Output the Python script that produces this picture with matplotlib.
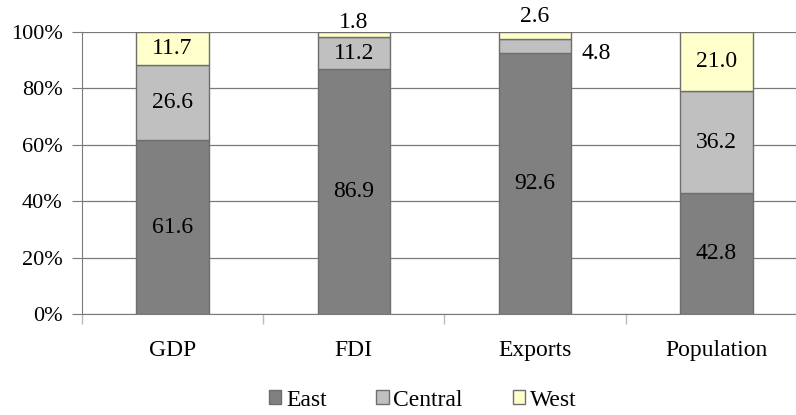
import matplotlib
matplotlib.use("Agg")
from matplotlib import pyplot as plt
from matplotlib.ticker import FixedLocator, FuncFormatter
from matplotlib.patches import Patch
import numpy as np

plt.rcParams["font.family"] = ["Liberation Serif", "DejaVu Serif"]

categories = ["GDP", "FDI", "Exports", "Population"]
east = [61.6, 86.9, 92.6, 42.8]
central = [26.6, 11.2, 4.8, 36.2]
west = [11.7, 1.8, 2.6, 21.0]
series_names = ["East", "Central", "West"]

colors = ["#808080", "#c0c0c0", "#ffffcc"]
edge = "#6e6e6e"

fig = plt.figure(figsize=(7.96, 4.15), dpi=100)
ax = fig.add_axes([0.103, 0.2434, 0.897, 0.6796])

x = np.arange(len(categories))
width = 0.4
bottom = np.zeros(len(categories))
for vals, col in zip([east, central, west], colors):
    ax.bar(x, vals, width, bottom=bottom, color=col, edgecolor=edge, linewidth=1.0, zorder=3)
    bottom = bottom + np.array(vals)

# data labels, small segments placed outside the bar
fs = 17
for i in range(len(categories)):
    segs = [east[i], central[i], west[i]]
    base = 0
    for j, v in enumerate(segs):
        mid = base + v / 2
        label = f"{v:.1f}"
        if v < 3:
            # thin top segment: label above the bar
            ax.annotate(label, (x[i], base + v), xytext=(0, 7 if i == 1 else 11),
                        textcoords="offset points", ha="center", va="center", fontsize=fs)
        elif v < 6:
            ax.annotate(label, (x[i] + width / 2, mid), xytext=(7, -5),
                        textcoords="offset points", ha="left", va="center", fontsize=fs)
        else:
            ax.text(x[i], mid, label, ha="center", va="center", fontsize=fs, zorder=4)
        base += v

ax.set_xlim(-0.5, 3.44)
ax.set_ylim(0, 100)
ax.yaxis.set_major_locator(FixedLocator([0, 20, 40, 60, 80, 100]))
ax.yaxis.set_major_formatter(FuncFormatter(lambda v, p: f"{v:.0f}%"))
ax.grid(axis="y", color="#7a7a7a", linewidth=0.9, zorder=0)
ax.set_axisbelow(True)

ax.set_xticks(x)
ax.set_xticklabels(categories, fontsize=fs)
ax.tick_params(axis="x", length=0, pad=19)
ax.set_xticks([-0.5, 0.5, 1.5, 2.5], minor=True)
ax.tick_params(axis="x", which="minor", length=7, color="#bbbbbb", width=1)
ax.tick_params(axis="y", labelsize=16, length=7, color="#7a7a7a", pad=7)

for side in ["top", "right"]:
    ax.spines[side].set_visible(False)
ax.spines["left"].set_color("#7a7a7a")
ax.spines["bottom"].set_color("#7a7a7a")

handles = [Patch(facecolor=c, edgecolor=edge, label=n) for c, n in zip(colors, series_names)]
fig.legend(handles=handles, loc="center", bbox_to_anchor=(0.531, 0.036), ncol=3,
           frameon=False, fontsize=fs, handlelength=0.52, handleheight=0.52,
           handletextpad=0.2, columnspacing=2.1, borderpad=0)

fig.savefig("out.png", dpi=100)
